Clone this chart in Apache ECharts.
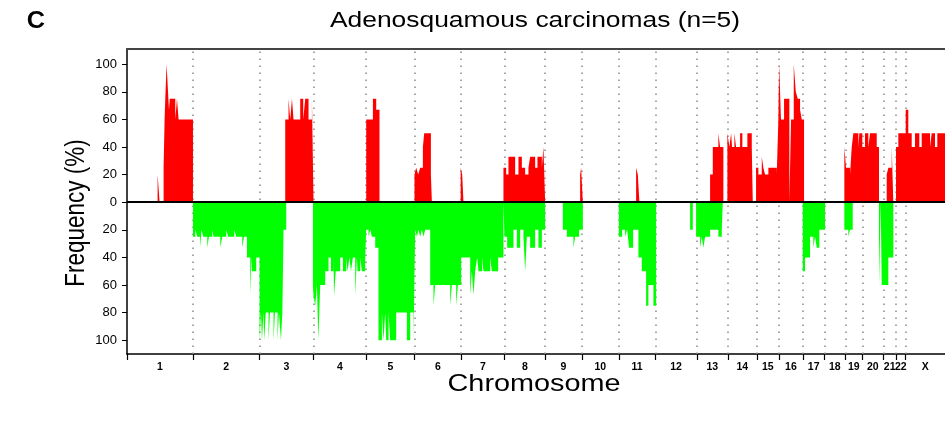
<!DOCTYPE html>
<html><head><meta charset="utf-8">
<script src="https://cdn.jsdelivr.net/npm/echarts@6/dist/echarts.min.js"></script>
<style>html,body{margin:0;padding:0;background:#fff}#c{width:945px;height:422px}</style>
</head><body><div id="c"></div>
<script>
// Chromosome names and boundaries (genome position units along the x axis)
const chromNames = ['1','2','3','4','5','6','7','8','9','10','11','12','13','14','15','16','17','18','19','20','21','22','X'];
const chromBounds = [0,66,132.6,186.6,239.3,287.6,334.3,377.6,418.3,455,492,528.6,570,601,630,652,676.3,697.6,718.6,735.6,756.6,769.3,779,818.3];
const yTickValues = [-100,-80,-60,-40,-20,0,20,40,60,80,100];

// Gains: [start, end, frequency %]
const gainSegments = [
  [30.6,32.6,20],[36.6,37.6,25],[37.6,38.3,60],[38.3,39.6,75],[39.6,41.4,100],[41.4,42,75],[42,42.8,67],[42.8,48.3,75],[48.3,50,60],[50,51.6,75],[51.6,66,60],
  [158.3,161.6,60],[161.6,163.3,75],[163.3,165,60],[165,166.6,75],[166.6,173.3,60],[173.3,176.3,75],[176.3,178.3,60],[178.3,181.6,75],[181.6,185,60],[185,186.6,75],
  [239.3,246,60],[246,249.3,75],[249.3,252.6,67],
  [287.6,289.3,20],[289.3,291.3,25],[291.3,293.3,20],[293.3,296,25],[296,297.3,40],[297.3,304,50],[304,305,20],
  [333.8,335.3,25],[335.3,336.6,20],
  [376.6,379.3,25],[379.3,381.6,20],[381.6,388.3,33],[388.3,391.6,20],[391.6,395,33],[395,398.3,25],[398.3,401.6,20],[401.6,403.3,25],[403.3,408.3,33],[408.3,410.6,25],[410.6,415,33],[415,416.6,25],[416.6,418.3,40],
  [453.3,454.3,20],[454.3,456,25],
  [509.3,511,25],[511,512.6,20],
  [583.3,586,20],[586,591.6,40],[591.6,593.3,50],[593.3,596.6,40],
  [600.6,602.6,50],[602.6,604.3,40],[604.3,605.3,50],[605.3,607.6,40],[607.6,609.3,50],[609.3,613.3,40],[613.3,615.6,50],[615.6,620.6,40],[620.6,625,50],[625,626,40],
  [629.3,631.6,25],[631.6,635,20],[635,636.6,33],[636.6,638.3,25],[638.3,641.6,20],[641.6,650,25],[650,651.6,20],
  [651.6,652.4,60],[652.4,654.2,100],[654.2,657.3,60],[657.3,662.6,75],[664.3,667,60],[667,669,100],[669,671,80],[671,673.3,75],[673.3,675,67],[675,677.3,60],
  [717.6,719.3,40],[719.3,723.3,25],[723.3,725,20],[725,726.6,40],[726.6,731.6,50],[731.6,732.6,40],[732.6,735.6,50],[735.6,738.3,40],[738.3,741.6,50],[741.6,743.3,40],[743.3,750,50],[750,752.3,40],
  [760,761.6,20],[761.6,765,25],[765,766.6,40],
  [769.3,771.6,40],[771.6,779,50],[779,781.6,67],[781.6,785,50],[785,788.3,40],[788.3,792.6,50],[792.6,795,40],[795,803.3,50],[803.3,805,40],[805,808.3,50],[808.3,810.6,40],[810.6,818.3,50]
];

// Losses: [start, end, frequency %]
const lossSegments = [
  [66,68.3,25],[68.3,70.3,20],[70.3,73,25],[73,74.6,33],[74.6,76.3,20],[76.3,80.3,25],[80.3,82,33],[82,85.3,25],[85.3,86.6,20],[86.6,93.3,25],[93.3,95.3,33],[95.3,99.3,25],[99.3,101.3,20],[101.3,107.3,25],[107.3,109.3,20],[109.3,115.3,25],[115.3,117,33],[117,120,25],[120,123.3,40],[123.3,124.5,67],[124.5,125,40],[125,129.3,50],[129.3,132.6,40],
  [132.6,134,100],[134,135,80],[135,136.5,100],[136.5,137.3,80],[137.3,138.8,100],[138.8,141.6,80],[141.6,143,100],[143,146.6,80],[146.6,148,100],[148,150.6,80],[150.6,152,100],[152,154,80],[154,155.4,100],[155.4,156.6,80],[156.6,159.3,20],
  [186,186.6,60],[186.6,188.3,68],[188.3,190,75],[190,191.4,60],[191.4,193.3,100],[193.3,198.3,60],[198.3,201.6,50],[201.6,204,40],[204,206.6,50],[206.6,207.1,40],[207.1,208.8,68],[208.8,213.3,50],[213.3,216,40],[216,219.3,50],[219.3,220.6,40],[220.6,222.6,50],[222.6,224,40],[224,226,50],[226,228.3,40],[228.3,230,68],[230,230.6,40],[230.6,233.3,50],[233.3,235,40],[235,238.3,50],[238.3,239.3,40],
  [239.3,241.6,20],[241.6,243.3,25],[243.3,245,20],[245,248.3,25],[248.3,251.6,33],[251.6,255,100],[255,256.6,80],[256.6,258.3,100],[258.3,259.3,80],[259.3,261.6,100],[261.6,263.3,80],[263.3,269.3,100],[269.3,280,80],[280,283.3,100],[283.3,286.6,80],[286.6,288.3,100],
  [288.3,290,20],[290,291.6,25],[291.6,293.3,20],[293.3,295,25],[295,296.6,20],[296.6,298.3,25],[298.3,303.3,20],[303.3,306.6,60],[306.6,308.3,75],[308.3,323.3,60],[323.3,325,75],[325,329.3,60],[329.3,331,75],[331,334.3,60],
  [334.3,343.3,40],[343.3,345,67],[345,346.6,50],[346.6,348.3,67],[348.3,350.3,50],[350.3,351.6,40],[351.6,355.3,50],[355.3,356.6,40],[356.6,363.3,50],[363.3,365,40],[365,371.3,50],[371.3,376.6,40],
  [377.6,380.3,25],[380.3,386.6,33],[386.6,390,20],[390,393.3,33],[393.3,396.6,20],[396.6,398.3,25],[398.3,400,50],[400,403.3,25],[403.3,408.3,33],[408.3,411.6,20],[411.6,415,33],[415,418.3,20],
  [436,440,20],[440,446.6,25],[446.6,448.3,33],[448.3,452.3,25],[452.3,456,20],
  [492,495.3,25],[495.3,498.3,20],[498.3,500.3,25],[500.3,502.3,20],[502.3,506.3,33],[506.3,511.6,20],[511.6,515,40],[515,519.3,50],[519.3,521.6,75],[521.6,526.6,60],[526.6,529.3,75],
  [563.3,566,20],
  [569.3,573.3,25],[573.3,575,33],[575,576.6,25],[576.6,578.3,33],[578.3,583.3,25],[583.3,591.6,20],[591.6,595,25],[595,596,20],
  [676,678.3,50],[678.3,683.3,40],[683.3,686.6,25],[686.6,688.3,33],[688.3,690,25],[690,692.6,33],[692.6,698.3,20],
  [717.6,721.6,20],[721.6,723.3,25],[723.3,726,20],
  [752.3,754,60],[755,761.6,60],[761.6,766.6,40]
];

function profile(segs, sign) {
  const s = segs.slice().sort((a, b) => a[0] - b[0]);
  const pts = [];
  let last = null;
  for (const [a, b, v] of s) {
    if (last === null || a > last + 1e-6) {
      if (last !== null) pts.push([last, 0]);
      pts.push([a, 0]);
    }
    pts.push([a, sign * v]);
    pts.push([b, sign * v]);
    last = b;
  }
  if (last !== null) pts.push([last, 0]);
  return pts;
}

const centers = chromNames.map((n, i) => (chromBounds[i] + chromBounds[i + 1]) / 2);
const xMin = chromBounds[0], xMax = chromBounds[chromBounds.length - 1];
const FONT = 'Liberation Sans, Arial, Helvetica, sans-serif';

const chart = echarts.init(document.getElementById('c'), null, { renderer: 'canvas' });
chart.setOption({
  animation: false,
  backgroundColor: '#fff',
  grid: { left: 127, right: 0, top: 49, bottom: 68, containLabel: false },
  xAxis: [{
    type: 'value', min: xMin, max: xMax, position: 'bottom',
    axisLine: { show: true, onZero: false, lineStyle: { color: '#000', width: 1.5 } },
    axisTick: { show: true, inside: false, length: 6, customValues: chromBounds.slice(0, -1), lineStyle: { color: '#000', width: 1.2 } },
    axisLabel: {
      show: true, customValues: centers, margin: 8, hideOverlap: false,
      fontFamily: FONT, fontWeight: 'bold', fontSize: 10.5, color: '#000',
      formatter: (v) => { const i = centers.findIndex(c => Math.abs(c - v) < 0.01); return i >= 0 ? chromNames[i] : ''; }
    },
    splitLine: { show: false }
  }, {
    type: 'value', min: xMin, max: xMax, position: 'top',
    axisLine: { show: true, onZero: false, lineStyle: { color: '#444', width: 2 } },
    axisTick: { show: false }, axisLabel: { show: false }, splitLine: { show: false }
  }],
  yAxis: {
    type: 'value', min: -110, max: 111,
    axisLine: { show: true, onZero: false, lineStyle: { color: '#000', width: 1.5 } },
    axisTick: { show: true, inside: false, length: 5, customValues: yTickValues, lineStyle: { color: '#000', width: 1 } },
    axisLabel: { show: true, customValues: yTickValues, margin: 10, fontFamily: FONT, fontSize: 13, color: '#000', formatter: (v) => String(Math.abs(v)) },
    splitLine: { show: false }
  },
  series: [
    {
      type: 'line', data: [], z: 1, silent: true,
      markLine: {
        silent: true, z: 1, symbol: ['none', 'none'], label: { show: false },
        lineStyle: { color: '#8a8a8a', type: [1.5, 5.5], width: 1.5 },
        emphasis: { disabled: true },
        data: chromBounds.slice(1, -1).map(v => ({ xAxis: v }))
      }
    },
    {
      name: 'Gain', type: 'line', data: profile(gainSegments, 1), z: 3,
      symbol: 'none', showSymbol: false, silent: true,
      lineStyle: { width: 0 }, itemStyle: { color: '#ff0000' },
      areaStyle: { color: '#ff0000', opacity: 1, origin: 0 }
    },
    {
      name: 'Loss', type: 'line', data: profile(lossSegments, -1), z: 3,
      symbol: 'none', showSymbol: false, silent: true,
      lineStyle: { width: 0 }, itemStyle: { color: '#00ff00' },
      areaStyle: { color: '#00ff00', opacity: 1, origin: 0 },
      markLine: {
        silent: true, z: 10, symbol: ['none', 'none'], label: { show: false },
        lineStyle: { color: '#000', type: 'solid', width: 2 },
        emphasis: { disabled: true },
        data: [{ yAxis: 0 }]
      }
    }
  ],
  graphic: [
    { type: 'text', x: 36, y: 22, scaleX: 1.1, style: { text: 'C', font: 'bold 23px ' + FONT, fill: '#000', align: 'center', verticalAlign: 'middle' } },
    { type: 'text', x: 535, y: 21, scaleX: 1.2, style: { text: 'Adenosquamous carcinomas (n=5)', font: '22px ' + FONT, fill: '#000', align: 'center', verticalAlign: 'middle' } },
    { type: 'text', x: 534, y: 384, scaleX: 1.2, style: { text: 'Chromosome', font: '24px ' + FONT, fill: '#000', align: 'center', verticalAlign: 'middle' } },
    { type: 'text', x: 77, y: 213, rotation: Math.PI / 2, scaleY: 1.2, style: { text: 'Frequency (%)', font: '22.5px ' + FONT, fill: '#000', align: 'center', verticalAlign: 'middle' } }
  ]
});
</script></body></html>
